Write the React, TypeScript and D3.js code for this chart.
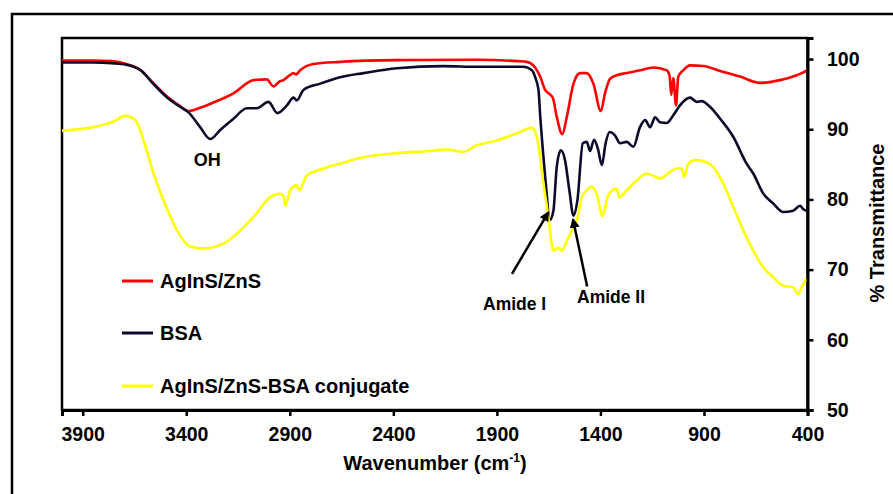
import React, { useEffect, useRef } from "react";
import * as d3 from "d3";

// ---- data (wavenumber cm-1, % transmittance) ----
const RED_WN = [4000, 3850, 3760, 3690, 3620, 3560, 3495, 3430, 3389, 3330, 3269, 3172, 3075, 3011, 2979, 2950, 2931, 2900, 2882, 2870, 2850, 2786, 2657, 2383, 1997, 1800, 1756, 1724, 1691, 1667, 1645, 1630, 1611, 1584, 1562, 1530, 1498, 1466, 1434, 1398, 1378, 1353, 1321, 1273, 1209, 1144, 1080, 1066, 1058, 1048, 1035, 1024, 1000, 967, 903, 822, 726, 629, 533, 452, 400];
const RED_T = [99.8, 99.8, 99.7, 99.3, 98.4, 96.6, 94.7, 93.3, 92.6, 93.1, 93.8, 95.1, 97.0, 97.1, 96.1, 96.8, 97.0, 97.7, 98.0, 97.8, 98.4, 99.3, 99.6, 99.85, 99.9, 99.7, 99.6, 99.1, 97.5, 95.6, 95.0, 94.5, 91.8, 89.3, 91.8, 96.5, 98.0, 98.0, 96.5, 92.6, 95.1, 97.2, 97.7, 98.0, 98.4, 98.8, 98.4, 97.6, 94.9, 97.3, 93.4, 97.5, 98.4, 99.1, 99.0, 98.3, 97.5, 96.6, 97.0, 97.7, 98.4];

const BSA_WN = [4000, 3850, 3760, 3690, 3620, 3560, 3495, 3430, 3389, 3333, 3284, 3236, 3172, 3107, 3059, 3003, 2960, 2914, 2882, 2866, 2834, 2753, 2657, 2544, 2383, 2158, 1997, 1772, 1731, 1716, 1699, 1691, 1675, 1660, 1646, 1627, 1611, 1591, 1571, 1550, 1530, 1511, 1485, 1466, 1450, 1431, 1412, 1393, 1375, 1355, 1329, 1305, 1273, 1241, 1209, 1184, 1160, 1136, 1112, 1080, 1048, 1016, 967, 935, 911, 871, 822, 758, 694, 662, 613, 565, 517, 469, 436, 420, 404];
const BSA_T = [99.5, 99.5, 99.4, 99.2, 98.4, 96.5, 94.6, 93.2, 92.4, 90.3, 88.6, 89.9, 91.5, 93.0, 93.0, 93.9, 92.3, 93.4, 94.5, 94.1, 95.6, 96.5, 97.4, 98.0, 98.7, 99.0, 98.9, 98.9, 98.4, 97.5, 95.6, 92.0, 86.0, 81.0, 77.0, 78.4, 84.6, 87.0, 85.6, 81.3, 77.7, 79.9, 88.0, 88.2, 86.9, 88.5, 87.2, 84.9, 88.0, 89.6, 89.1, 88.0, 88.2, 87.5, 90.3, 91.3, 90.3, 91.7, 91.0, 90.9, 92.0, 93.4, 94.5, 93.9, 94.0, 93.2, 91.5, 88.9, 85.1, 83.7, 80.8, 79.4, 78.2, 78.4, 79.1, 78.6, 78.4];

const CONJ_WN = [4000, 3848, 3751, 3695, 3646, 3606, 3558, 3510, 3445, 3381, 3317, 3220, 3156, 3075, 2995, 2947, 2930, 2922, 2898, 2866, 2855, 2818, 2737, 2657, 2544, 2383, 2222, 2142, 2062, 1997, 1900, 1804, 1731, 1707, 1675, 1651, 1627, 1603, 1587, 1562, 1538, 1514, 1490, 1466, 1442, 1418, 1390, 1366, 1337, 1320, 1310, 1273, 1225, 1176, 1112, 1064, 1031, 1007, 996, 975, 943, 887, 855, 806, 758, 710, 662, 613, 565, 517, 469, 444, 428, 404];
const CONJ_T = [89.8, 90.3, 91.1, 91.9, 91.3, 88.4, 83.7, 79.9, 75.6, 73.3, 73.0, 73.7, 75.1, 77.5, 80.3, 80.8, 80.5, 79.1, 81.3, 82.0, 81.3, 83.4, 84.4, 85.1, 86.0, 86.6, 86.9, 87.1, 86.8, 87.7, 88.4, 89.4, 90.2, 88.9, 82.2, 77.5, 72.7, 73.1, 72.7, 74.1, 75.6, 77.0, 80.3, 81.3, 81.8, 80.8, 77.6, 80.3, 81.4, 81.5, 80.3, 81.3, 82.7, 83.7, 83.0, 83.9, 84.4, 84.4, 83.2, 85.1, 85.6, 85.3, 84.6, 82.2, 78.9, 75.6, 72.7, 70.3, 68.9, 67.7, 67.5, 66.5, 67.5, 68.7];

const SERIES_NAMES = ["AgInS/ZnS", "BSA", "AgInS/ZnS-BSA conjugate"];
const SERIES_COLORS = ["#ff0000", "#0b0b2b", "#ffff00"];
const X_TICKS = [3900, 3400, 2900, 2400, 1900, 1400, 900, 400];
const Y_TICKS = [50, 60, 70, 80, 90, 100];

const FONT = "'Liberation Sans', Arial, sans-serif";

export default function App() {
  const xAxisRef = useRef<SVGGElement>(null);
  const yAxisRef = useRef<SVGGElement>(null);

  const left = 62, right = 807.5, top = 38, bottom = 410;
  const x = d3.scaleLinear().domain([4000, 400]).range([left, right]);
  const y = d3.scaleLinear().domain([50, 103]).range([bottom, top]);

  const series = [
    RED_WN.map((w, i) => [w, RED_T[i]] as [number, number]),
    BSA_WN.map((w, i) => [w, BSA_T[i]] as [number, number]),
    CONJ_WN.map((w, i) => [w, CONJ_T[i]] as [number, number]),
  ];
  const line = d3
    .line<[number, number]>()
    .x((d) => x(d[0]))
    .y((d) => y(d[1]))
    .curve(d3.curveMonotoneX);

  useEffect(() => {
    if (xAxisRef.current) {
      const g = d3.select(xAxisRef.current);
      g.call(
        d3.axisBottom(x).tickValues(X_TICKS).tickFormat(d3.format("d")).tickSize(6).tickPadding(11.5)
      );
      g.select(".domain").attr("stroke", "#000").attr("stroke-width", 3);
      g.selectAll(".tick line").attr("stroke", "#000").attr("stroke-width", 2.5);
      g.selectAll(".tick text")
        .attr("fill", "#000")
        .style("font-family", FONT)
        .style("font-weight", "bold")
        .style("font-size", "19.5px");
    }
    if (yAxisRef.current) {
      const g = d3.select(yAxisRef.current);
      g.call(d3.axisRight(y).tickValues(Y_TICKS).tickSize(6).tickPadding(13.5));
      g.select(".domain").attr("stroke", "#000").attr("stroke-width", 3);
      g.selectAll(".tick line").attr("stroke", "#000").attr("stroke-width", 2.5);
      g.selectAll(".tick text")
        .attr("fill", "#000")
        .style("font-family", FONT)
        .style("font-weight", "bold")
        .style("font-size", "19.5px");
    }
  });

  const legendY = [281, 333, 386];

  return (
    <svg
      width={893}
      height={494}
      style={{ position: "absolute", left: 0, top: 0, background: "#fff" }}
      fontFamily={FONT}
    >
      <defs>
        <marker id="arrowhead" viewBox="0 0 10 10" refX="8" refY="5" markerWidth="4" markerHeight="4" orient="auto">
          <path d="M0,0 L10,5 L0,10 z" fill="#000" />
        </marker>
      </defs>
      <rect x={0} y={0} width={893} height={494} fill="#fff" />
      <rect x={12} y={14} width={900} height={500} fill="none" stroke="#000" strokeWidth={2.5} />
      {/* plot frame */}
      <rect x={left} y={top} width={right - left} height={bottom - top} fill="none" stroke="#000" strokeWidth={2.5} />

      {series.map((s, i) => (
        <path key={i} d={line(s) || ""} fill="none" stroke={SERIES_COLORS[i]} strokeWidth={2.6} strokeLinejoin="round" />
      ))}

      <g ref={xAxisRef} transform={`translate(0,${bottom})`} />
      <g ref={yAxisRef} transform={`translate(${right},0)`} />

      {/* annotations */}
      <text x={x(3299)} y={y(84.7)} textAnchor="middle" fontWeight="bold" fontSize={18} fill="#000">OH</text>
      <line x1={x(1827)} y1={y(69.4)} x2={x(1653)} y2={y(78.1)} stroke="#000" strokeWidth={2.5} markerEnd="url(#arrowhead)" />
      <line x1={x(1464)} y1={y(67.6)} x2={x(1532)} y2={y(77.1)} stroke="#000" strokeWidth={2.5} markerEnd="url(#arrowhead)" />
      <text x={x(1967)} y={y(64.2)} fontWeight="bold" fontSize={17.5} fill="#000">Amide I</text>
      <text x={x(1513)} y={y(65.2)} fontWeight="bold" fontSize={17.5} fill="#000">Amide II</text>

      {/* legend */}
      {SERIES_NAMES.map((n, i) => (
        <g key={n}>
          <line x1={122} x2={153} y1={legendY[i]} y2={legendY[i]} stroke={SERIES_COLORS[i]} strokeWidth={3} />
          <text x={160} y={legendY[i] + 7} fontWeight="bold" fontSize={20} fill="#000">{n}</text>
        </g>
      ))}

      {/* axis titles */}
      <text x={435} y={470} textAnchor="middle" fontWeight="bold" fontSize={20} fill="#000">
        Wavenumber (cm<tspan fontSize={12} dy={-8}>-1</tspan><tspan dy={8}>)</tspan>
      </text>
      <text transform="translate(884,223) rotate(-90)" textAnchor="middle" fontWeight="bold" fontSize={20} fill="#000">
        % Transmittance
      </text>
    </svg>
  );
}
